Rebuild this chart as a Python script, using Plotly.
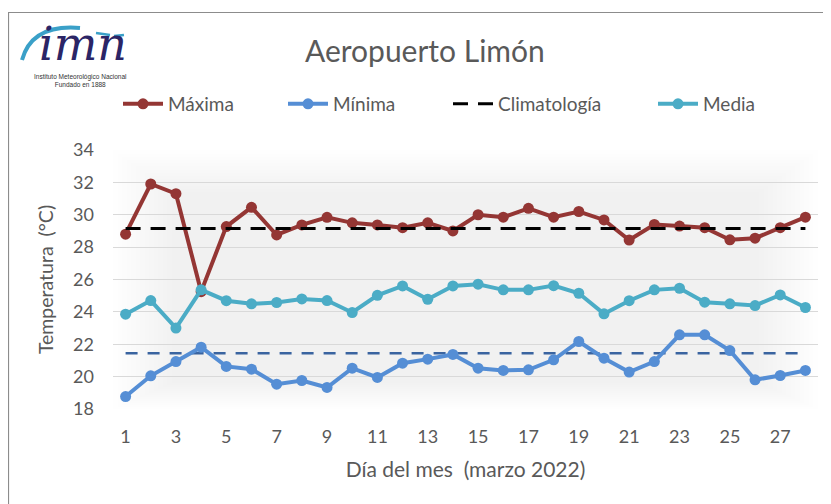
import plotly.graph_objects as go

dias = list(range(1, 29))
maxima = [28.8, 31.9, 31.3, 25.25, 29.27, 30.46, 28.75, 29.37, 29.84, 29.5,
          29.37, 29.2, 29.5, 29.0, 30.0, 29.85, 30.4, 29.85, 30.2, 29.68,
          28.44, 29.4, 29.3, 29.2, 28.45, 28.55, 29.2, 29.85]
minima = [18.77, 20.05, 20.93, 21.82, 20.63, 20.46, 19.53, 19.76, 19.33, 20.52,
          19.95, 20.83, 21.08, 21.37, 20.52, 20.38, 20.42, 21.04, 22.17, 21.14,
          20.28, 20.93, 22.58, 22.58, 21.61, 19.8, 20.07, 20.38]
media = [23.86, 24.7, 23.0, 25.36, 24.69, 24.5, 24.58, 24.8, 24.7, 23.96,
         25.02, 25.6, 24.78, 25.6, 25.71, 25.36, 25.36, 25.62, 25.15, 23.88,
         24.69, 25.36, 25.46, 24.6, 24.5, 24.39, 25.05, 24.27]
clima_max = [29.15] * 28
clima_min = [21.45] * 28
x_ticks = list(range(1, 28, 2))
y_ticks = list(range(18, 35, 2))

W, H = 831, 504
OFF = 8  # page body margin
SL, SR, ST, SB = 113, 818, 150, 409
PW, PH = SR - SL, SB - ST
ML, MT = SL - OFF, ST - OFF
MR, MB = W - ML - PW, H - MT - PH


def px(xs):
    return (xs - SL) / PW


def py(ys):
    return (SB - ys) / PH


TXT = "#595959"
FONT = "Lato"
IW = 40
TXT_OFF = 52

fig = go.Figure()
fig.add_trace(go.Scatter(x=dias, y=clima_min, mode="lines", showlegend=False,
                         line=dict(color="#3A64A0", width=2.5, dash="12px,10px"),
                         hoverinfo="skip"))
fig.add_trace(go.Scatter(x=dias, y=maxima, mode="lines+markers", name="Máxima",
                         line=dict(color="#943634", width=4), legend="legend",
                         marker=dict(size=11, color="#943634")))
fig.add_trace(go.Scatter(x=dias, y=minima, mode="lines+markers", name="Mínima",
                         line=dict(color="#558ED5", width=4), legend="legend2",
                         marker=dict(size=11, color="#558ED5")))
fig.add_trace(go.Scatter(x=dias, y=clima_max, mode="lines", name="Climatología",
                         legend="legend3",
                         line=dict(color="#000000", width=3, dash="15px,10px")))
fig.add_trace(go.Scatter(x=dias, y=media, mode="lines+markers", name="Media",
                         line=dict(color="#4BACC6", width=4), legend="legend4",
                         marker=dict(size=11, color="#4BACC6")))

shapes = []
n = 14
for i in range(n):
    dx = 4.5 * i
    dyt = 3.2 * i
    dyb = 2.0 * i
    shapes.append(dict(type="rect", xref="paper", yref="paper",
                       x0=px(SL + dx), x1=px(SR - dx),
                       y0=py(SB - dyb), y1=py(ST + dyt),
                       line=dict(width=0), fillcolor="rgba(0,0,0,0.0046)",
                       layer="below"))
shapes.append(dict(type="rect", xref="paper", yref="paper",
                   x0=px(8.5), x1=px(845), y0=py(530), y1=py(12.5),
                   line=dict(color="#8C8C8C", width=1.2), fillcolor="rgba(0,0,0,0)"))
shapes.append(dict(type="path", xref="paper", yref="paper",
                   path=f"M {px(22)} {py(60)} Q {px(32)} {py(24)} {px(80)} {py(28)}",
                   line=dict(color="#3AA0C8", width=4)))
shapes.append(dict(type="path", xref="paper", yref="paper",
                   path=f"M {px(96)} {py(33)} L {px(110)} {py(35)}",
                   line=dict(color="#3AA0C8", width=2.5)))
shapes.append(dict(type="path", xref="paper", yref="paper",
                   path=f"M {px(114)} {py(36)} L {px(124)} {py(35)}",
                   line=dict(color="#3AA0C8", width=2.5)))

annotations = [
    dict(text="<i>imn</i>", xref="paper", yref="paper", x=px(83), y=py(72),
         showarrow=False, font=dict(family="DejaVu Serif", size=46, color="#2B2566"),
         xanchor="center", yanchor="bottom", borderpad=0),
    dict(text="Instituto Meteorológico Nacional<br>Fundado en 1888", xref="paper",
         yref="paper", x=px(80), y=py(80), showarrow=False,
         font=dict(family="Liberation Sans", size=6.5, color="#333333"),
         xanchor="center", yanchor="middle", borderpad=0),
    dict(text="Aeropuerto Limón", xref="paper", yref="paper",
         x=px(425), y=py(50), showarrow=False,
         font=dict(family=FONT, size=30, color=TXT),
         xanchor="center", yanchor="middle"),
]


def leg(text_x):
    return dict(orientation="h", x=px(text_x - TXT_OFF), xanchor="left",
                y=py(104), yanchor="middle", itemwidth=IW,
                bgcolor="rgba(0,0,0,0)",
                font=dict(family=FONT, size=19, color=TXT))


fig.update_layout(
    width=W, height=H,
    margin=dict(l=ML, r=MR, t=MT, b=MB),
    paper_bgcolor="white", plot_bgcolor="white",
    font=dict(family=FONT, color=TXT, size=18),
    shapes=shapes, annotations=annotations,
    legend=leg(170), legend2=leg(335), legend3=leg(500), legend4=leg(705),
    showlegend=True,
)
fig.update_xaxes(range=[0.5, 28.5], tickmode="array", tickvals=x_ticks,
                 ticktext=[str(v) for v in x_ticks],
                 showgrid=False, zeroline=False, showline=False, ticks="",
                 ticklabelstandoff=15,
                 tickfont=dict(size=18, color=TXT),
                 title=dict(text="Día del mes  (marzo 2022)", standoff=16,
                            font=dict(size=21, color=TXT)))
fig.update_yaxes(range=[18, 34], tickmode="array", tickvals=y_ticks,
                 ticktext=[str(v) for v in y_ticks],
                 showgrid=True, gridcolor="#D9D9D9", gridwidth=1.3,
                 zeroline=False, showline=False, ticks="",
                 ticklabelstandoff=18,
                 tickfont=dict(size=18, color=TXT),
                 title=dict(text="Temperatura  (°C)", standoff=14,
                            font=dict(size=19.5, color=TXT)))

fig.write_html("out.html")
